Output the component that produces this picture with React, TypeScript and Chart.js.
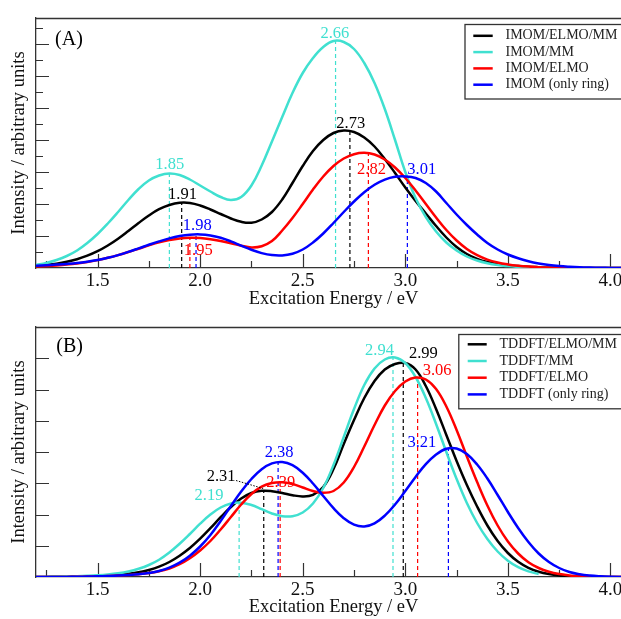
import React, { useEffect, useRef } from 'react';
import { Chart, registerables } from 'chart.js';

Chart.register(...registerables);

const FONT = '"Liberation Serif", "Times New Roman", Times, serif';
const BLACK = '#000000';
const CYAN = '#40E0D0';
const RED = '#FF0000';
const BLUE = '#0000FF';
const FRAME = '#333333';

// ---------- axis ticks ----------
const xTickValues = [1.5, 2.0, 2.5, 3.0, 3.5, 4.0];
const xMinorValues = [1.25, 1.75, 2.25, 2.75, 3.25, 3.75];
const yMajorA = [32, 64, 96, 128, 160, 192, 224];
const yMinorA = [16, 48, 80, 112, 144, 176, 208, 240];
const yMajorB = [31.25, 62.5, 93.75, 125, 156.25, 187.5, 218.75];
const yMinorB: number[] = [];

// ---------- shared excitation-energy grid (eV) ----------
const energyGrid = [
  1.2, 1.25, 1.3, 1.35, 1.4, 1.45, 1.5, 1.55, 1.6, 1.65,
  1.7, 1.75, 1.8, 1.85, 1.9, 1.95, 2.0, 2.05, 2.1, 2.15,
  2.2, 2.25, 2.3, 2.35, 2.4, 2.45, 2.5, 2.55, 2.6, 2.65,
  2.7, 2.75, 2.8, 2.85, 2.9, 2.95, 3.0, 3.05, 3.1, 3.15,
  3.2, 3.25, 3.3, 3.35, 3.4, 3.45, 3.5, 3.55, 3.6, 3.65,
  3.7, 3.75, 3.8, 3.85, 3.9, 3.95, 4.0, 4.05, 4.1,
];

// ---------- Panel A (IMOM) intensities ----------
const aBlack = [
  2, 3, 4.3, 6.2, 8.8, 12.3, 16.8, 22.5, 29.3, 37,
  45, 52.5, 58.8, 63, 65.2, 65, 62.5, 58.5, 54, 49.5,
  46.2, 45.3, 48.5, 56, 68.5, 85, 102, 117, 128, 135,
  137.5, 136, 130.5, 121.5, 109, 95, 80.5, 67, 54.5, 42,
  30.5, 21, 14, 9.2, 6, 4.1, 2.8, 1.9, 1.2, 0.8,
  0.5, 0.3, 0.15, 0.05, 0, 0, 0, 0, 0,
];
const aCyan = [
  3, 5, 8, 12, 17.5, 25, 34, 44.5, 56, 68,
  79, 87.5, 92.5, 94.5, 93, 88.5, 82.5, 76.5, 71, 68,
  71, 82.5, 102.5, 126.5, 151, 175, 195, 210, 221, 227,
  226, 219, 205, 185, 159, 128, 96, 70, 51, 36.5,
  25.5, 17.5, 11.5, 7.5, 4.8, 3, 1.9, 1.1, 0.6, 0.3,
  0.15, 0.05, 0, 0, 0, 0, 0, 0, 0,
];
const aRed = [
  1.5, 2, 2.6, 3.4, 4.5, 6, 7.9, 10.2, 12.9, 16,
  19.3, 22.6, 25.6, 28, 29.6, 30.3, 30, 28.8, 27, 24.8,
  22.3, 20.6, 21.8, 27, 37.5, 50, 64, 78.5, 91.5, 102,
  109.5, 113.8, 115.2, 113.5, 108.5, 100.5, 90, 77.5, 64, 50.5,
  38, 27.5, 19, 12.8, 8.4, 5.5, 3.6, 2.3, 1.4, 0.8,
  0.45, 0.25, 0.1, 0, 0, 0, 0, 0, 0,
];
const aBlue = [
  2.3, 2.8, 3.4, 4.1, 5, 6.3, 8, 10.2, 12.9, 16.1,
  19.6, 23.2, 26.6, 29.6, 31.9, 33.3, 33.6, 32.6, 30.2, 26.6,
  22.3, 18.2, 14.9, 12.9, 12.6, 14.3, 18.5, 25.5, 34.5, 45,
  56, 66.5, 75.8, 83.2, 88.4, 91.2, 91.6, 90, 85, 76.5,
  65, 53.5, 43, 33.5, 25, 18.5, 13.5, 9.7, 6.8, 4.6,
  3, 1.9, 1.2, 0.7, 0.4, 0.2, 0.1, 0, 0,
];

const aPeaksBlack = [1.91, 2.73];
const aPeakHBlack = [65.3, 137.7];
const aPeaksCyan = [1.85, 2.66];
const aPeakHCyan = [94.5, 227.5];
const aPeaksRed = [1.95, 2.82];
const aPeakHRed = [30.3, 115];
const aPeaksBlue = [1.98, 3.01];
const aPeakHBlue = [33.7, 91.7];

const aLegend = ['IMOM/ELMO/MM', 'IMOM/MM', 'IMOM/ELMO', 'IMOM (only ring)'];

// ---------- Panel B (TDDFT) intensities ----------
const bBlack = [
  0, 0.1, 0.2, 0.3, 0.5, 0.7, 1, 1.5, 2.2, 3.2,
  4.7, 7, 10.3, 15, 21.3, 29, 38.3, 48.8, 59.8, 70,
  78.5, 84, 86.2, 85.8, 84, 81.8, 80.6, 82.2, 90, 108,
  133, 157, 179, 196, 207.5, 213, 214, 207.5, 191, 168,
  142, 116, 92, 70.5, 51.5, 36, 24, 15.2, 9.2, 5.3,
  2.9, 1.5, 0.8, 0.4, 0.2, 0.1, 0, 0, 0,
];
const bCyan = [
  0, 0.1, 0.25, 0.45, 0.75, 1.15, 1.7, 2.5, 3.7, 5.5,
  8.2, 12, 17.3, 24.5, 33.2, 43, 53.3, 62.5, 69.5, 73.5,
  74.3, 72, 67.8, 63.5, 60.8, 60.8, 64.5, 73.5, 89, 112,
  140, 168, 192, 208.5, 217.5, 219.5, 214, 200, 179, 153,
  125, 98, 74, 54, 38, 25.5, 16.3, 9.8, 5.6, 3,
];
const bRed = [
  0, 0, 0.05, 0.1, 0.2, 0.4, 0.7, 1, 1.4, 2,
  2.8, 4, 5.8, 8.5, 12.8, 18.8, 26.5, 36, 47.5, 60,
  72.5, 83, 90.3, 94, 94.8, 93, 89.5, 86, 84.2, 86,
  94.5, 110, 130.5, 152, 171.5, 186, 195.5, 199.5, 197.5, 188,
  170.5, 147, 120.5, 95, 71.5, 51.5, 35.5, 23.5, 14.8, 9,
  5.2, 2.9, 1.6, 0.8, 0.4, 0.2, 0.05, 0, 0,
];
const bBlue = [
  0, 0, 0.05, 0.1, 0.2, 0.4, 0.7, 1, 1.4, 2,
  2.8, 4, 6, 9.3, 14.3, 21.3, 30.5, 42, 56, 71,
  85.5, 98, 107.8, 113.6, 115, 111.8, 104.3, 93.5, 81, 68.8,
  58.8, 52.3, 50.5, 53.6, 61.3, 72.5, 86, 100, 112.8, 122.5,
  128.3, 128.5, 123, 112.5, 98.5, 82, 65, 49, 35, 23.5,
  15, 9, 5, 2.7, 1.4, 0.7, 0.3, 0.1, 0,
];

const bPeaksBlack = [2.31, 2.99];
const bPeakHBlack = [86.3, 214.3];
const bPeaksCyan = [2.19, 2.94];
const bPeakHCyan = [74.7, 219.7];
const bPeaksRed = [2.39, 3.06];
const bPeakHRed = [95, 199.7];
const bPeaksBlue = [2.38, 3.21];
const bPeakHBlue = [115.3, 129.3];

const bLegend = ['TDDFT/ELMO/MM', 'TDDFT/MM', 'TDDFT/ELMO', 'TDDFT (only ring)'];

// ---------- peak labels (energy, intensity position) ----------
type Ann = { text: string; color: string; x: number; y: number };
const aLabels: Ann[] = [
  { text: '1.85', color: CYAN, x: 1.852, y: 103 },
  { text: '1.91', color: BLACK, x: 1.914, y: 73.3 },
  { text: '1.98', color: BLUE, x: 1.986, y: 42 },
  { text: '1.95', color: RED, x: 1.991, y: 17 },
  { text: '2.66', color: CYAN, x: 2.657, y: 234 },
  { text: '2.73', color: BLACK, x: 2.734, y: 144.8 },
  { text: '2.82', color: RED, x: 2.835, y: 98 },
  { text: '3.01', color: BLUE, x: 3.08, y: 98 },
];
const bLabels: Ann[] = [
  { text: '2.31', color: BLACK, x: 2.102, y: 100.7 },
  { text: '2.19', color: CYAN, x: 2.043, y: 81.5 },
  { text: '2.38', color: BLUE, x: 2.385, y: 124.7 },
  { text: '2.39', color: RED, x: 2.393, y: 94.5 },
  { text: '2.94', color: CYAN, x: 2.874, y: 226.7 },
  { text: '2.99', color: BLACK, x: 3.088, y: 223 },
  { text: '3.06', color: RED, x: 3.155, y: 206 },
  { text: '3.21', color: BLUE, x: 3.081, y: 134.5 },
];
const bLeader = [2.175, 96.5, 2.307, 88.5];

type Series = { I: number[]; color: string; peaks: number[]; peakH: number[] };

type PanelCfg = {
  height: number;
  padTop: number;
  axisH: number;
  series: Series[]; // legend order
  legendLabels: string[];
  labels: Ann[];
  leader?: number[];
  yMajor: number[];
  yMinor: number[];
  tag: string;
  tagPos: [number, number];
  legendBox: { left: number; top: number; bottom: number; lineX0: number; lineX1: number; textX: number; rows: number[] };
};

const W = 640;

function makePlugin(cfg: PanelCfg) {
  return {
    id: 'panelDeco',
    beforeDatasetsDraw(chart: any) {
      const ctx = chart.ctx;
      const { left, top, right, bottom } = chart.chartArea;
      const xs = chart.scales.x;
      const ys = chart.scales.y;
      ctx.save();
      ctx.strokeStyle = FRAME;
      ctx.lineWidth = 1.3;
      ctx.beginPath();
      ctx.moveTo(left, top + 0.5);
      ctx.lineTo(right + 20, top + 0.5);
      ctx.stroke();
      ctx.lineWidth = 1.2;
      ctx.beginPath();
      for (const v of xTickValues) {
        const p = Math.round(xs.getPixelForValue(v)) + 0.5;
        ctx.moveTo(p, bottom);
        ctx.lineTo(p, bottom - 14);
      }
      for (const v of xMinorValues) {
        const p = Math.round(xs.getPixelForValue(v)) + 0.5;
        ctx.moveTo(p, bottom);
        ctx.lineTo(p, bottom - 7);
      }
      for (const v of cfg.yMajor) {
        const p = Math.round(ys.getPixelForValue(v)) + 0.5;
        ctx.moveTo(left, p);
        ctx.lineTo(left + 13, p);
      }
      for (const v of cfg.yMinor) {
        const p = Math.round(ys.getPixelForValue(v)) + 0.5;
        ctx.moveTo(left, p);
        ctx.lineTo(left + 7, p);
      }
      ctx.stroke();
      ctx.restore();
    },
    afterDatasetsDraw(chart: any) {
      const ctx = chart.ctx;
      const xs = chart.scales.x;
      const ys = chart.scales.y;
      ctx.save();
      ctx.font = `16.5px ${FONT}`;
      ctx.textAlign = 'center';
      ctx.textBaseline = 'middle';
      for (const a of cfg.labels) {
        ctx.fillStyle = a.color;
        ctx.fillText(a.text, xs.getPixelForValue(a.x), ys.getPixelForValue(a.y));
      }
      if (cfg.leader) {
        const [x0, y0, x1, y1] = cfg.leader;
        ctx.strokeStyle = BLACK;
        ctx.lineWidth = 1;
        ctx.setLineDash([1.5, 1.5]);
        ctx.beginPath();
        ctx.moveTo(xs.getPixelForValue(x0), ys.getPixelForValue(y0));
        ctx.lineTo(xs.getPixelForValue(x1), ys.getPixelForValue(y1));
        ctx.stroke();
        ctx.setLineDash([]);
      }
      ctx.fillStyle = BLACK;
      ctx.font = `20px ${FONT}`;
      ctx.fillText(cfg.tag, cfg.tagPos[0], cfg.tagPos[1]);
      const lb = cfg.legendBox;
      ctx.fillStyle = '#ffffff';
      ctx.fillRect(lb.left, lb.top, W - lb.left + 5, lb.bottom - lb.top);
      ctx.strokeStyle = FRAME;
      ctx.lineWidth = 1.3;
      ctx.strokeRect(lb.left + 0.5, lb.top + 0.5, W - lb.left + 5, lb.bottom - lb.top);
      ctx.font = `14px ${FONT}`;
      ctx.textAlign = 'left';
      cfg.series.forEach((s, i) => {
        const y = lb.rows[i];
        ctx.strokeStyle = s.color;
        ctx.lineWidth = 2.5;
        ctx.beginPath();
        ctx.moveTo(lb.lineX0, y);
        ctx.lineTo(lb.lineX1, y);
        ctx.stroke();
        ctx.fillStyle = '#222222';
        ctx.fillText(cfg.legendLabels[i], lb.textX, y);
      });
      ctx.restore();
    },
  };
}

function Panel({ cfg }: { cfg: PanelCfg }) {
  const ref = useRef<HTMLCanvasElement>(null);
  useEffect(() => {
    const curves = cfg.series.map((s, i) => ({
      label: cfg.legendLabels[i],
      data: s.I.map((v, k) => ({ x: energyGrid[k], y: v })),
      borderColor: s.color,
      backgroundColor: s.color,
      borderWidth: 2.5,
      pointRadius: 0,
      fill: false,
      tension: 0.4,
    }));
    const drops: any[] = [];
    cfg.series.forEach((s) => {
      s.peaks.forEach((p, k) => {
        drops.push({
          data: [
            { x: p, y: 0 },
            { x: p, y: s.peakH[k] },
          ],
          borderColor: s.color,
          borderWidth: 1.2,
          borderDash: [4, 3],
          pointRadius: 0,
          tension: 0,
          fill: false,
        });
      });
    });
    // index 0 is drawn on top: blue, red, cyan, black, then drop lines underneath
    const ordered = [curves[3], curves[2], curves[1], curves[0], ...drops];
    const chart = new Chart(ref.current as HTMLCanvasElement, {
      type: 'line',
      data: { datasets: ordered },
      options: {
        animation: false,
        responsive: false,
        devicePixelRatio: 1,
        layout: { padding: { top: cfg.padTop, left: 0, right: 9, bottom: 0 } },
        plugins: { legend: { display: false }, tooltip: { enabled: false } },
        scales: {
          x: {
            type: 'linear',
            min: 1.2,
            max: 4.1,
            afterBuildTicks: (scale: any) => {
              scale.ticks = xTickValues.map((v) => ({ value: v }));
            },
            afterFit: (scale: any) => {
              scale.height = cfg.axisH;
            },
            ticks: {
              font: { family: FONT, size: 19, lineHeight: 1 },
              color: '#111111',
              padding: 4,
              maxRotation: 0,
              callback: (v: any) => Number(v).toFixed(1),
            },
            grid: { display: false, drawTicks: false },
            border: { display: true, color: FRAME, width: 1.3 },
            title: {
              display: true,
              text: 'Excitation Energy / eV',
              font: { family: FONT, size: 18.5, lineHeight: 1 },
              color: '#111111',
              padding: { top: 0, bottom: 2.2 },
            },
          },
          y: {
            type: 'linear',
            min: 0,
            max: 250,
            afterFit: (scale: any) => {
              scale.width = 36;
            },
            ticks: { display: false },
            grid: { display: false, drawTicks: false },
            border: { display: true, color: FRAME, width: 1.3 },
            title: {
              display: true,
              text: 'Intensity / arbitrary units',
              font: { family: FONT, size: 18.5, lineHeight: 1 },
              color: '#111111',
              padding: { top: 10, bottom: 0 },
            },
          },
        },
      },
      plugins: [makePlugin(cfg)],
    } as any);
    return () => chart.destroy();
  }, []);
  return (
    <canvas ref={ref} width={W} height={cfg.height} style={{ display: 'block', width: W, height: cfg.height }} />
  );
}

const cfgA: PanelCfg = {
  height: 311,
  padTop: 18,
  axisH: 43,
  series: [
    { I: aBlack, color: BLACK, peaks: aPeaksBlack, peakH: aPeakHBlack },
    { I: aCyan, color: CYAN, peaks: aPeaksCyan, peakH: aPeakHCyan },
    { I: aRed, color: RED, peaks: aPeaksRed, peakH: aPeakHRed },
    { I: aBlue, color: BLUE, peaks: aPeaksBlue, peakH: aPeakHBlue },
  ],
  legendLabels: aLegend,
  labels: aLabels,
  yMajor: yMajorA,
  yMinor: yMinorA,
  tag: '(A)',
  tagPos: [69, 40],
  legendBox: { left: 464.5, top: 24, bottom: 98.5, lineX0: 473.3, lineX1: 492.7, textX: 505.5, rows: [35.8, 52.1, 68.4, 84.7] },
};

const cfgB: PanelCfg = {
  height: 308,
  padTop: 16,
  axisH: 42,
  series: [
    { I: bBlack, color: BLACK, peaks: bPeaksBlack, peakH: bPeakHBlack },
    { I: bCyan, color: CYAN, peaks: bPeaksCyan, peakH: bPeakHCyan },
    { I: bRed, color: RED, peaks: bPeaksRed, peakH: bPeakHRed },
    { I: bBlue, color: BLUE, peaks: bPeaksBlue, peakH: bPeakHBlue },
  ],
  legendLabels: bLegend,
  labels: bLabels,
  leader: bLeader,
  yMajor: yMajorB,
  yMinor: yMinorB,
  tag: '(B)',
  tagPos: [69.7, 35.5],
  legendBox: { left: 458.3, top: 23, bottom: 97.3, lineX0: 467.7, lineX1: 486.7, textX: 499.5, rows: [33.3, 50, 66.7, 83.4] },
};

export default function App() {
  return (
    <div style={{ position: 'absolute', left: 0, top: 0, width: 621, height: 619, overflow: 'hidden', background: '#ffffff' }}>
      <Panel cfg={cfgA} />
      <Panel cfg={cfgB} />
    </div>
  );
}
